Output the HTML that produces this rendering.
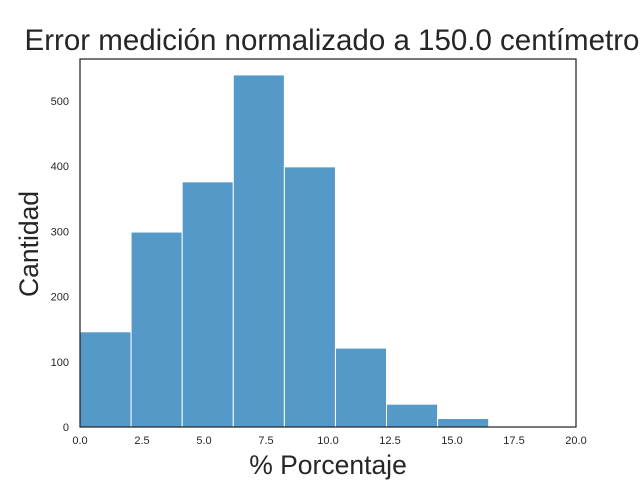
<!DOCTYPE html>
<html><head><meta charset="utf-8"><style>
body{margin:0;background:#fff;font-family:"Liberation Sans",sans-serif}
</style></head><body>
<svg width="640" height="480" xmlns="http://www.w3.org/2000/svg">
<rect width="640" height="480" fill="#fff"/>
<text x="332" y="50" font-size="29.5" text-anchor="middle" fill="#262626">Error medición normalizado a 150.0 centímetro</text>
<g id="bars"></g>
<g id="axes"></g>
<rect x="80" y="59" width="496" height="368" fill="none" stroke="#262626" stroke-width="1.25"/>
<text x="328" y="474" font-size="26.5" text-anchor="middle" fill="#262626">% Porcentaje</text>
<text transform="translate(38,244) rotate(-90)" font-size="26.5" text-anchor="middle" fill="#262626">Cantidad</text>
</svg>
<script>
const binStarts=[0,2.06,4.12,6.18,8.24,10.3,12.36,14.42,16.48,18.54];
const binWidth=2.06;
const counts=[146,299,376,540,399,121,35,13,1,0];
const xTicks=[0,2.5,5,7.5,10,12.5,15,17.5,20];
const xTickLabels=["0.0","2.5","5.0","7.5","10.0","12.5","15.0","17.5","20.0"];
const yTicks=[0,100,200,300,400,500];
const NS="http://www.w3.org/2000/svg";
const X=v=>80+v*(496/20);
const Y=v=>427-v*(326/500);
const bars=document.getElementById('bars');
counts.forEach((c,i)=>{
 if(c<=0)return;
 const r=document.createElementNS(NS,'rect');
 
 
 const x0=X(binStarts[i]),x1=Math.min(X(binStarts[i]+binWidth),576);
 r.setAttribute('x',x0);r.setAttribute('width',x1-x0);
 r.setAttribute('y',Y(c));r.setAttribute('height',427-Y(c));
 r.setAttribute('fill','#5499c7');r.setAttribute('stroke','#fff');r.setAttribute('stroke-width','1');
 bars.appendChild(r);
});
const axes=document.getElementById('axes');
xTicks.forEach((t,i)=>{
 const tx=document.createElementNS(NS,'text');
 
 
 tx.setAttribute('x',X(t));tx.setAttribute('y',444);tx.setAttribute('font-size','11');
 tx.setAttribute('text-anchor','middle');tx.setAttribute('fill','#262626');
 tx.textContent=xTickLabels[i];axes.appendChild(tx);
});
yTicks.forEach(t=>{
 const tx=document.createElementNS(NS,'text');
 
 
 tx.setAttribute('x',69);tx.setAttribute('y',Y(t)+4);tx.setAttribute('font-size','11');
 tx.setAttribute('text-anchor','end');tx.setAttribute('fill','#262626');
 tx.textContent=t;axes.appendChild(tx);
});
</script>
</body></html>
